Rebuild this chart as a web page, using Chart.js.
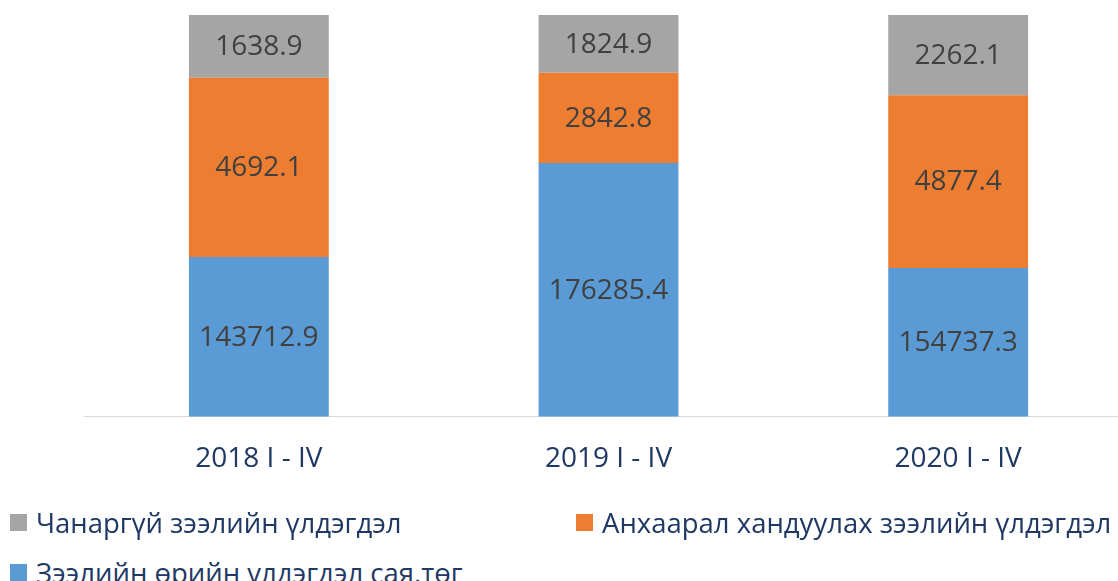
<!DOCTYPE html>
<html>
<head>
<meta charset="utf-8">
<script src="https://cdn.jsdelivr.net/npm/chart.js@4"></script>
<style>
  html, body { margin: 0; padding: 0; background: #fff; overflow: hidden; }
  body { width: 1118px; height: 581px; position: relative; font-family: "Open Sans", sans-serif; }
  #wrap { position: absolute; left: 0; top: 0; width: 1133px; height: 508px; }
  .legend-item { position: absolute; display: flex; align-items: center; font-size: 27.5px; color: #1F3864; white-space: nowrap; }
  .legend-item .box { width: 17px; height: 17px; margin-right: 9px; }
</style>
</head>
<body>
<div id="wrap"><canvas id="loanChart"></canvas></div>
<div id="legend"></div>
<script>
const categories = ['2018 I - IV', '2019 I - IV', '2020 I - IV'];
const loanBalance = [143712.9, 176285.4, 154737.3];
const attentionLoans = [4692.1, 2842.8, 4877.4];
const badLoans = [1638.9, 1824.9, 2262.1];

const seriesNames = [
  'Зээлийн өрийн үлдэгдэл сая.төг',
  'Анхаарал хандуулах зээлийн үлдэгдэл',
  'Чанаргүй зээлийн үлдэгдэл'
];
const colors = ['#5B9BD5', '#ED7D31', '#A5A5A5'];

// 100% stacked, like the excel chart
const totals = categories.map((c, i) => loanBalance[i] + attentionLoans[i] + badLoans[i]);
const toPct = arr => arr.map((v, i) => v / totals[i] * 100);
const rawValues = [loanBalance, attentionLoans, badLoans];

const valueLabels = {
  id: 'valueLabels',
  afterDatasetsDraw(chart) {
    const ctx = chart.ctx;
    const area = chart.chartArea;
    ctx.save();
    ctx.font = '28px "Open Sans"';
    ctx.fillStyle = '#404040';
    ctx.textAlign = 'center';
    ctx.textBaseline = 'middle';
    chart.data.datasets.forEach((ds, di) => {
      chart.getDatasetMeta(di).data.forEach((bar, i) => {
        const p = bar.getProps(['x', 'y', 'base'], true);
        const top = Math.max(Math.min(p.y, p.base), area.top);
        const bottom = Math.min(Math.max(p.y, p.base), area.bottom);
        ctx.fillText(rawValues[di][i].toFixed(1), p.x, (top + bottom) / 2 + 1);
      });
    });
    ctx.restore();
  }
};

new Chart(document.getElementById('loanChart').getContext('2d'), {
  type: 'bar',
  data: {
    labels: categories,
    datasets: rawValues.map((arr, i) => ({
      label: seriesNames[i],
      data: toPct(arr),
      backgroundColor: colors[i],
      barPercentage: 0.4,
      categoryPercentage: 1
    }))
  },
  options: {
    responsive: true,
    maintainAspectRatio: false,
    animation: false,
    layout: { padding: { left: 84, top: 15, right: 0, bottom: 6 } },
    plugins: {
      legend: { display: false },
      tooltip: { enabled: false }
    },
    scales: {
      x: {
        stacked: true,
        grid: { display: false, drawTicks: false },
        border: { color: '#D9D9D9', width: 1 },
        ticks: { color: '#1F3864', font: { family: 'Open Sans', size: 28 }, padding: 26 }
      },
      y: {
        stacked: true,
        display: false,
        min: 93,
        max: 100
      }
    }
  },
  plugins: [valueLabels]
});

// legend: excel puts it in reverse order, two columns
const legendPos = [
  { idx: 2, left: 10, top: 522 },
  { idx: 1, left: 576, top: 522 },
  { idx: 0, left: 10, top: 572 }
];
const legend = document.getElementById('legend');
legendPos.forEach(p => {
  const item = document.createElement('div');
  item.className = 'legend-item';
  item.style.left = p.left + 'px';
  item.style.top = (p.top - 17) + 'px';
  item.style.height = '34px';
  item.innerHTML = '<span class="box" style="background:' + colors[p.idx] + '"></span><span>' + seriesNames[p.idx] + '</span>';
  legend.appendChild(item);
});
</script>
</body>
</html>
